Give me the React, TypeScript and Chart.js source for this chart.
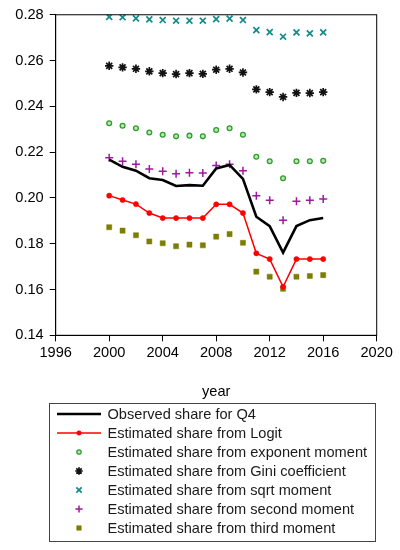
import { useEffect, useRef } from 'react';
import { Chart, registerables } from 'chart.js';
import { drawPoint } from 'chart.js/helpers';

Chart.register(...registerables);

const years = [2000, 2001, 2002, 2003, 2004, 2005, 2006, 2007, 2008, 2009, 2010, 2011, 2012, 2013, 2014, 2015, 2016];

const observed = [0.2167, 0.2136, 0.2119, 0.2086, 0.2078, 0.2052, 0.2056, 0.2053, 0.2129, 0.2144, 0.2083, 0.1918, 0.1877, 0.1761, 0.1877, 0.1903, 0.1912];
const logit = [0.2010, 0.1991, 0.1973, 0.1934, 0.1912, 0.1912, 0.1912, 0.1912, 0.1972, 0.1972, 0.1934, 0.1758, 0.1733, 0.1612, 0.1733, 0.1733, 0.1733];
const exponentMoment = [0.2326, 0.2315, 0.2304, 0.2286, 0.2276, 0.2269, 0.2272, 0.2269, 0.2297, 0.2304, 0.2276, 0.2180, 0.2160, 0.2086, 0.2160, 0.2160, 0.2162];
const giniCoef = [0.2577, 0.2570, 0.2564, 0.2553, 0.2545, 0.2541, 0.2545, 0.2542, 0.2560, 0.2564, 0.2548, 0.2474, 0.2462, 0.2441, 0.2459, 0.2458, 0.2462];
const sqrtMoment = [0.2791, 0.2789, 0.2784, 0.2780, 0.2777, 0.2774, 0.2774, 0.2774, 0.2781, 0.2783, 0.2777, 0.2733, 0.2724, 0.2704, 0.2723, 0.2719, 0.2723];
const secondMoment = [0.2176, 0.2160, 0.2147, 0.2126, 0.2116, 0.2106, 0.2110, 0.2109, 0.2142, 0.2147, 0.2119, 0.2010, 0.1990, 0.1903, 0.1986, 0.1990, 0.1995];
const thirdMoment = [0.1872, 0.1857, 0.1837, 0.1810, 0.1802, 0.1789, 0.1796, 0.1793, 0.1831, 0.1842, 0.1804, 0.1678, 0.1656, 0.1603, 0.1656, 0.1659, 0.1663];

const labels = [
  'Observed share for Q4',
  'Estimated share from Logit',
  'Estimated share from exponent moment',
  'Estimated share from Gini coefficient',
  'Estimated share from sqrt moment',
  'Estimated share from second moment',
  'Estimated share from third moment',
];

const FONT = '"Liberation Sans", Arial, sans-serif';

const toXY = (vals: number[]) => vals.map((v, i) => ({ x: years[i], y: v }));

// box round the plot area
const frame = {
  id: 'frame',
  afterDraw(chart: any) {
    const { ctx, chartArea: a } = chart;
    ctx.save();
    ctx.strokeStyle = '#000';
    ctx.lineWidth = 1;
    ctx.strokeRect(a.left, a.top, a.right - a.left, a.bottom - a.top);
    ctx.restore();
  },
};

// boxed legend below the axis title
const boxLegend = {
  id: 'boxLegend',
  afterDraw(chart: any) {
    const ctx = chart.ctx;
    const left = 49, top = 403, right = 375, bottom = 541;
    ctx.save();
    ctx.strokeStyle = '#444';
    ctx.lineWidth = 1;
    ctx.strokeRect(left + 0.5, top + 0.5, right - left, bottom - top);
    ctx.font = `14.6px ${FONT}`;
    ctx.textBaseline = 'middle';
    chart.data.datasets.forEach((ds: any, i: number) => {
      const y = 414 + i * 19;
      if (ds.showLine !== false) {
        ctx.strokeStyle = ds.borderColor;
        ctx.lineWidth = ds.borderWidth;
        ctx.beginPath();
        ctx.moveTo(57, y);
        ctx.lineTo(101, y);
        ctx.stroke();
      }
      if (ds.pointRadius > 0) {
        ctx.strokeStyle = ds.pointBorderColor;
        ctx.fillStyle = ds.pointBackgroundColor;
        ctx.lineWidth = ds.pointBorderWidth;
        drawPoint(ctx, { pointStyle: ds.pointStyle, radius: ds.pointRadius * 0.9, rotation: 0, borderWidth: ds.pointBorderWidth }, 79, y);
      }
      ctx.fillStyle = '#1a1a1a';
      ctx.fillText(ds.label, 107.5, y + 0.5);
    });
    ctx.restore();
  },
};

function ShareChart() {
  const chartRef = useRef<HTMLCanvasElement>(null);
  const chartInstance = useRef<Chart | null>(null);

  useEffect(() => {
    if (!chartRef.current) return;
    const ctx = chartRef.current.getContext('2d');
    if (!ctx) return;
    if (chartInstance.current) chartInstance.current.destroy();

    const scatter = (label: string, vals: number[], color: string, style: string, r: number, fill: string, bw: number) => ({
      label,
      data: toXY(vals),
      showLine: false,
      borderColor: color,
      borderWidth: 0,
      pointStyle: style,
      pointRadius: r,
      pointBorderColor: color,
      pointBackgroundColor: fill,
      pointBorderWidth: bw,
    });

    chartInstance.current = new Chart(ctx, {
      type: 'line',
      data: {
        datasets: [
          {
            label: labels[0],
            data: toXY(observed),
            borderColor: '#000',
            borderWidth: 2.6,
            pointRadius: 0,
            pointBorderWidth: 0,
          } as any,
          {
            label: labels[1],
            data: toXY(logit),
            borderColor: '#ff0000',
            borderWidth: 1.5,
            pointRadius: 2.6,
            pointStyle: 'circle',
            pointBorderColor: '#ff0000',
            pointBackgroundColor: '#ff0000',
            pointBorderWidth: 0.5,
          },
          scatter(labels[2], exponentMoment, '#2e9e2e', 'circle', 2.4, 'rgba(180,230,170,0.9)', 1.3),
          scatter(labels[3], giniCoef, '#111', 'star', 4.2, '#111', 1.7),
          scatter(labels[4], sqrtMoment, '#138a8a', 'crossRot', 4.2, '#138a8a', 1.7),
          scatter(labels[5], secondMoment, '#a0189e', 'cross', 4, '#a0189e', 1.5),
          scatter(labels[6], thirdMoment, '#7d7d00', 'rect', 3.6, '#7d7d00', 0.5),
        ] as any,
      },
      options: {
        animation: false,
        responsive: true,
        maintainAspectRatio: false,
        layout: { padding: { left: 0, top: 14.7, right: 23.3, bottom: 149.7 } },
        plugins: {
          legend: { display: false },
          tooltip: { enabled: false },
        },
        elements: { line: { tension: 0 } },
        scales: {
          x: {
            type: 'linear',
            min: 1996,
            max: 2020,
            afterFit: (s: any) => { s.height = 65; },
            ticks: {
              stepSize: 4,
              color: '#000',
              padding: 3,
              font: { family: FONT, size: 14.6 },
              callback: (v: any) => String(v),
            },
            grid: { drawOnChartArea: false, tickLength: 6, color: '#000' },
            border: { color: '#000' },
            title: {
              display: true,
              text: 'year',
              color: '#000',
              padding: { top: 0, bottom: 0 },
              font: { family: FONT, size: 14.6 },
            },
          },
          y: {
            min: 0.14,
            max: 0.28,
            afterFit: (s: any) => { s.width = 55.7; },
            ticks: {
              stepSize: 0.02,
              color: '#000',
              padding: 6,
              font: { family: FONT, size: 14.6 },
              callback: (v: any) => Number(v).toFixed(2),
            },
            grid: { drawOnChartArea: false, tickLength: 6, color: '#000' },
            border: { color: '#000' },
          },
        },
      },
      plugins: [frame, boxLegend],
    });

    return () => {
      if (chartInstance.current) {
        chartInstance.current.destroy();
        chartInstance.current = null;
      }
    };
  }, []);

  return (
    <div style={{ position: 'fixed', left: 0, top: 0, width: 400, height: 550, background: '#fff' }}>
      <canvas ref={chartRef}></canvas>
    </div>
  );
}

export default function App() {
  return <ShareChart />;
}
